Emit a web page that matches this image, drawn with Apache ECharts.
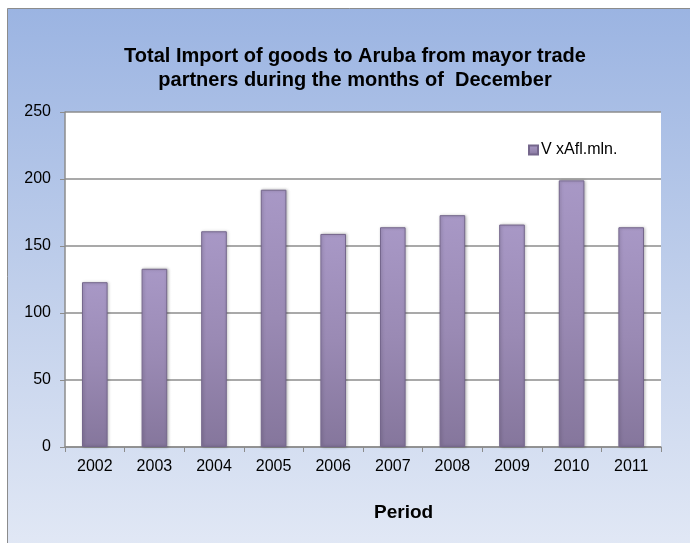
<!DOCTYPE html>
<html>
<head>
<meta charset="utf-8">
<script src="https://cdn.jsdelivr.net/npm/echarts@6/dist/echarts.min.js"></script>
<style>
html,body{margin:0;padding:0;background:#ffffff;}
#chart{width:690px;height:543px;}
</style>
</head>
<body>
<div id="chart"></div>
<script>
var categories = ['2002','2003','2004','2005','2006','2007','2008','2009','2010','2011'];
var values = [123, 133, 161, 192, 159, 164, 173, 166, 199, 164];
var seriesName = 'V xAfl.mln.';
var yTicks = [0, 50, 100, 150, 200, 250];
var titleText = 'Total Import of goods to Aruba from mayor trade\npartners during the months of  December';
var xAxisTitle = 'Period';

var chart = echarts.init(document.getElementById('chart'), null, {renderer: 'canvas'});
var font = '"Liberation Sans", Arial, sans-serif';

var barGradient = new echarts.graphic.LinearGradient(0, 0, 0, 1, [
  {offset: 0, color: '#a898c6'},
  {offset: 0.5, color: '#9a8ab4'},
  {offset: 1, color: '#85769c'}
]);

chart.setOption({
  animation: false,
  graphic: [
    {
      type: 'rect', z: -10, silent: true,
      shape: {x: 7.5, y: 8.5, width: 700, height: 560},
      style: {
        fill: new echarts.graphic.LinearGradient(0, 0, 0, 1, [
          {offset: 0, color: '#9bb4e2'},
          {offset: 0.55, color: '#c4d2ec'},
          {offset: 1, color: '#e4eaf6'}
        ]),
        stroke: '#8c8c8c', lineWidth: 1
      }
    },
    {
      type: 'text', left: 374, top: 503,
      style: {text: xAxisTitle, font: 'bold 19px ' + font, fill: '#000000'}
    }
  ],
  title: {
    text: titleText,
    left: 350, top: 39, textAlign: 'center',
    textStyle: {fontFamily: font, fontWeight: 'bold', fontSize: 20, lineHeight: 24, color: '#000000'}
  },
  legend: {
    data: [seriesName],
    left: 523, top: 137,
    icon: 'rect', itemWidth: 9, itemHeight: 9, itemGap: 4,
    textStyle: {fontFamily: font, fontSize: 16, color: '#000000', padding: [0, 0, 0, -2]}
  },
  grid: {
    left: 65, right: 29, top: 112, bottom: 96,
    show: true, backgroundColor: '#ffffff', borderWidth: 0
  },
  xAxis: {
    type: 'category',
    data: categories,
    axisLine: {show: true, lineStyle: {color: '#8c8c8c', width: 1.5}},
    axisTick: {show: true, length: 5, lineStyle: {color: '#8c8c8c'}},
    axisLabel: {fontFamily: font, fontSize: 16, color: '#000000', margin: 12}
  },
  yAxis: {
    type: 'value',
    min: yTicks[0], max: yTicks[yTicks.length - 1], interval: 50,
    axisLine: {show: true, lineStyle: {color: '#8c8c8c', width: 1.5}},
    axisTick: {show: true, length: 5, lineStyle: {color: '#8c8c8c'}},
    axisLabel: {fontFamily: font, fontSize: 16, color: '#000000', margin: 14},
    splitLine: {show: true, lineStyle: {color: '#8c8c8c', width: 1.5}}
  },
  series: [{
    name: seriesName,
    type: 'bar',
    data: values,
    barWidth: '43%',
    itemStyle: {
      color: barGradient,
      borderColor: '#75678c',
      borderWidth: 1,
      shadowColor: 'rgba(0,0,0,0.25)',
      shadowBlur: 3,
      shadowOffsetX: 1
    }
  }]
});
</script>
</body>
</html>
